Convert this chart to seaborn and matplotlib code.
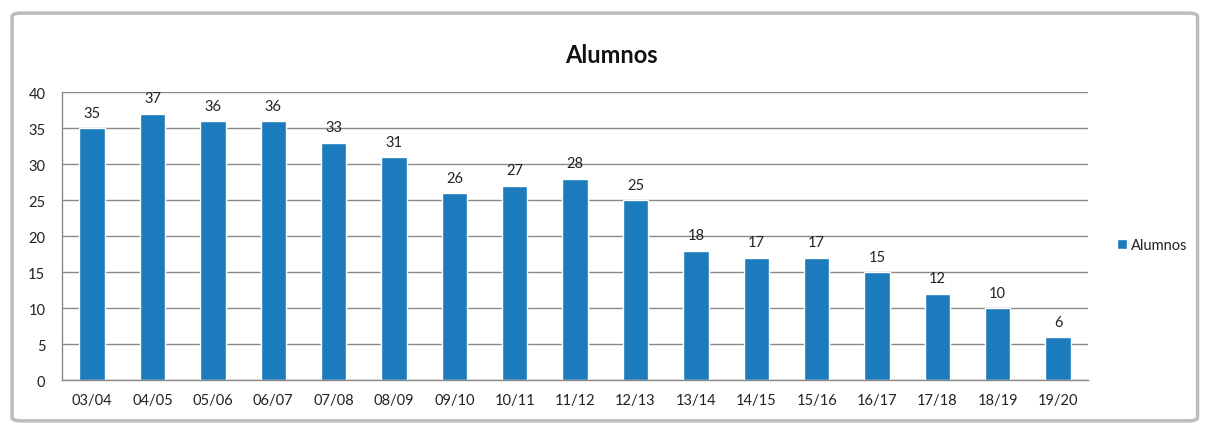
import matplotlib
matplotlib.use("Agg")
import matplotlib.pyplot as plt
import seaborn as sns
import pandas as pd
from matplotlib.patches import FancyBboxPatch

cursos = ["03/04", "04/05", "05/06", "06/07", "07/08", "08/09", "09/10", "10/11",
          "11/12", "12/13", "13/14", "14/15", "15/16", "16/17", "17/18", "18/19", "19/20"]
alumnos = [35, 37, 36, 36, 33, 31, 26, 27, 28, 25, 18, 17, 17, 15, 12, 10, 6]
yticks = [0, 5, 10, 15, 20, 25, 30, 35, 40]

sns.set_theme(style="white")
plt.rcParams['font.family'] = ['Lato', 'DejaVu Sans']

df = pd.DataFrame({"Curso": cursos, "Alumnos": alumnos})

fig = plt.figure(figsize=(12.06, 4.27), dpi=100)
ax = fig.add_axes([0.0514, 0.1077, 0.851, 0.674])

bar_color = "#1b7bbd"
sns.barplot(data=df, x="Curso", y="Alumnos", color=bar_color, width=0.42,
            ax=ax, label="Alumnos", saturation=1)

ax.set_ylim(0, 40)
ax.set_yticks(yticks)
ax.set_yticklabels([str(v) for v in yticks], fontsize=10.5, color="#222222")
ax.tick_params(axis="x", labelsize=10.5, colors="#222222", length=0, pad=9)
ax.tick_params(axis="y", length=0, pad=12)
ax.set_xlim(-0.5, len(cursos) - 0.5)
ax.set_xlabel("")
ax.set_ylabel("")
ax.yaxis.grid(True, color="#8a8a8a", linewidth=1.0)
ax.set_axisbelow(True)
for s in ["top", "right"]:
    ax.spines[s].set_visible(False)
for s in ["left", "bottom"]:
    ax.spines[s].set_color("#8a8a8a")
    ax.spines[s].set_linewidth(1.0)

for c in ax.containers:
    ax.bar_label(c, labels=[str(v) for v in alumnos], padding=6,
                 fontsize=10.5, color="#222222")

fig.text(0.507, 0.87, "Alumnos", ha="center", va="center",
         fontsize=17, fontweight="bold", color="#111111")

leg = ax.legend(loc="center left", bbox_to_anchor=(1.015, 0.47), frameon=False,
                fontsize=10.5, handlelength=0.7, handleheight=0.7, handletextpad=0.3)
for t in leg.get_texts():
    t.set_color("#222222")

frame = FancyBboxPatch((0.010, 0.012), 0.983, 0.955, boxstyle="round,pad=0,rounding_size=0.008",
                       transform=fig.transFigure, facecolor="none",
                       edgecolor="#bdbdbd", linewidth=2.5, zorder=-1)
fig.patches.append(frame)

fig.savefig("out.png", dpi=100)
